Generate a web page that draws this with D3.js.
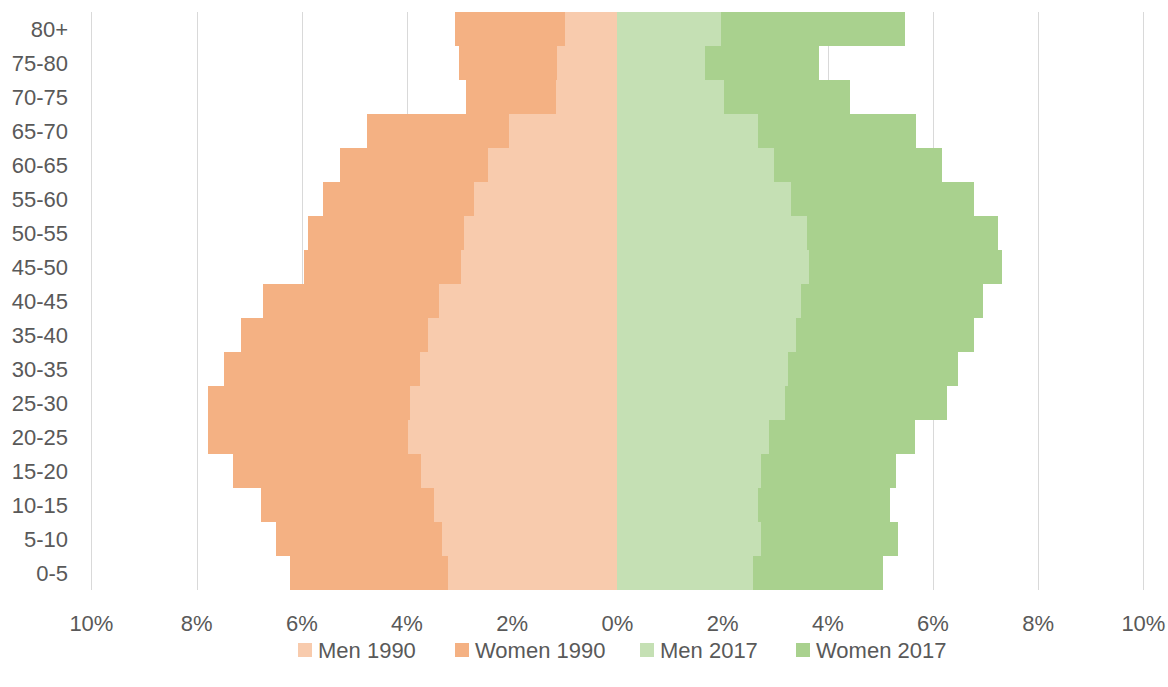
<!DOCTYPE html>
<html lang="en">
	<head>
		<meta charset="utf-8">
		<title>Population pyramid 1990 vs 2017</title>
		<script type="text/javascript" src="https://cdn.jsdelivr.net/npm/d3@7"></script>
		<style type="text/css">
			body { margin: 0; background: #fff; }
			text {
				font-family: "Liberation Sans", Arial, sans-serif;
				font-size: 22px;
				fill: #595959;
			}
		</style>
	</head>
	<body>
		<script type="text/javascript">

			// Age groups, bottom to top
			var categories = ["0-5", "5-10", "10-15", "15-20", "20-25", "25-30", "30-35", "35-40",
							  "40-45", "45-50", "50-55", "55-60", "60-65", "65-70", "70-75", "75-80", "80+"];

			// Share of population (%)
			var men1990   = [3.22, 3.33, 3.48, 3.73, 3.98, 3.94, 3.76, 3.61, 3.40, 2.97, 2.91, 2.73, 2.46, 2.07, 1.17, 1.14, 0.99];
			var women1990 = [3.01, 3.17, 3.30, 3.57, 3.81, 3.85, 3.71, 3.55, 3.34, 2.98, 2.98, 2.86, 2.82, 2.69, 1.71, 1.88, 2.10];
			var men2017   = [2.58, 2.73, 2.67, 2.73, 2.88, 3.19, 3.25, 3.40, 3.49, 3.64, 3.61, 3.30, 2.97, 2.67, 2.03, 1.67, 1.97];
			var women2017 = [2.46, 2.61, 2.52, 2.56, 2.77, 3.07, 3.22, 3.37, 3.47, 3.68, 3.62, 3.47, 3.20, 3.01, 2.40, 2.16, 3.50];

			var tickValues = [-10, -8, -6, -4, -2, 0, 2, 4, 6, 8, 10];
			var seriesNames = ["Men 1990", "Women 1990", "Men 2017", "Women 2017"];
			var colors = ["#F8CBAD", "#F4B183", "#C5E0B4", "#A9D18E"];

			var w = 1168;
			var h = 687;

			var svg = d3.select("body")
						.append("svg")
						.attr("width", w)
						.attr("height", h);

			var x = d3.scaleLinear()
						.domain([-10, 10])
						.range([91.4, 1143.4]);

			var y = d3.scaleBand()
						.domain(categories.slice().reverse())
						.range([12, 590])
						.padding(0);

			// gridlines
			svg.append("g")
				.selectAll("line")
				.data(tickValues.filter(function(d) { return d !== 0; }))
				.enter()
				.append("line")
				.attr("x1", function(d) { return Math.round(x(d)) + 0.5; })
				.attr("x2", function(d) { return Math.round(x(d)) + 0.5; })
				.attr("y1", 12)
				.attr("y2", 590)
				.attr("stroke", "#D9D9D9")
				.attr("stroke-width", 1);

			// build stacked segments: [series index, category, start, end]
			var segments = [];
			categories.forEach(function(c, i) {
				segments.push({s: 0, c: c, x0: 0, x1: -men1990[i]});
				segments.push({s: 1, c: c, x0: -men1990[i], x1: -(men1990[i] + women1990[i])});
				segments.push({s: 2, c: c, x0: 0, x1: men2017[i]});
				segments.push({s: 3, c: c, x0: men2017[i], x1: men2017[i] + women2017[i]});
			});

			svg.append("g")
				.selectAll("rect")
				.data(segments)
				.enter()
				.append("rect")
				.attr("x", function(d) { return x(Math.min(d.x0, d.x1)); })
				.attr("width", function(d) { return Math.abs(x(d.x1) - x(d.x0)); })
				.attr("y", function(d) { return y(d.c); })
				.attr("height", y.bandwidth())
				.attr("fill", function(d) { return colors[d.s]; })
				.attr("shape-rendering", "crispEdges");

			// category labels
			svg.append("g")
				.selectAll("text")
				.data(categories)
				.enter()
				.append("text")
				.attr("x", 68)
				.attr("y", function(d) { return y(d) + y.bandwidth() / 2 + 8; })
				.attr("text-anchor", "end")
				.text(function(d) { return d; });

			// x axis labels
			svg.append("g")
				.selectAll("text")
				.data(tickValues)
				.enter()
				.append("text")
				.attr("x", function(d) { return x(d); })
				.attr("y", 631)
				.attr("text-anchor", "middle")
				.text(function(d) { return Math.abs(d) + "%"; });

			// legend
			var legendX = [298, 455, 640, 796];
			var legend = svg.append("g")
				.selectAll("g")
				.data(seriesNames)
				.enter()
				.append("g")
				.attr("transform", function(d, i) { return "translate(" + legendX[i] + ",643)"; });

			legend.append("rect")
				.attr("width", 14)
				.attr("height", 14)
				.attr("fill", function(d, i) { return colors[i]; });

			legend.append("text")
				.attr("x", 20)
				.attr("y", 15)
				.text(function(d) { return d; });

		</script>
	</body>
</html>
